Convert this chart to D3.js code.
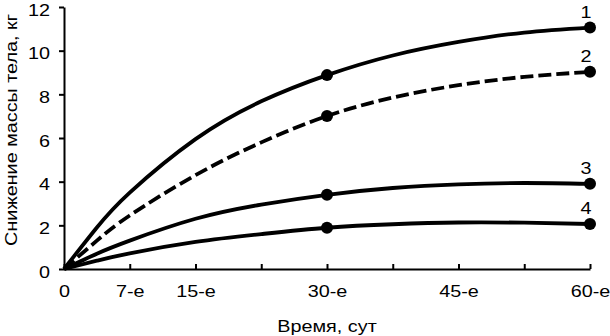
<!DOCTYPE html>
<html>
<head>
<meta charset="utf-8">
<script src="https://cdn.jsdelivr.net/npm/d3@7"></script>
<style>
  html, body { margin: 0; padding: 0; background: #fff; }
  svg { display: block; font-family: "Liberation Sans", Arial, sans-serif; }
</style>
</head>
<body>
<svg id="chart" width="610" height="336"></svg>
<script>
// Days along the x axis where the curves were read
const days = [0, 3.75, 7.5, 15, 22.5, 30, 37.5, 45, 52.5, 60];
// Curve values (kg)
const series1 = [0, 1.9, 3.5, 5.95, 7.68, 8.88, 9.78, 10.4, 10.83, 11.06];
const series2 = [0, 1.3, 2.45, 4.3, 5.8, 7.01, 7.85, 8.42, 8.8, 9.03];
const series3 = [0, 0.7, 1.3, 2.3, 2.95, 3.40, 3.71, 3.88, 3.94, 3.9];
const series4 = [0, 0.38, 0.72, 1.24, 1.6, 1.89, 2.05, 2.13, 2.12, 2.06];
const seriesNames = ["1", "2", "3", "4"];
const seriesDashed = [false, true, false, false];
// Days with markers
const markerDays = [30, 60];
// X tick values and labels
const xTickValues = [0, 7.5, 15, 22.5, 30, 37.5, 45, 52.5, 60];
const xTickLabels = ["0", "7-е", "15-е", "", "30-е", "", "45-е", "", "60-е"];
const yTickValues = [0, 2, 4, 6, 8, 10, 12];
const xTitle = "Время, сут";
const yTitle = "Снижение массы тела, кг";

const allSeries = [series1, series2, series3, series4];
const FS = 16.5;      // font size
const SX = 1.2;       // horizontal text stretch seen in the reference
const FONT = "Liberation Sans, Arial, sans-serif";

const svg = d3.select("#chart");
const x = d3.scaleLinear().domain([0, 60]).range([64, 590]);
const y = d3.scaleLinear().domain([0, 12]).range([269, 7]);

// Y axis
const yAxis = d3.axisLeft(y).tickValues(yTickValues).tickSizeInner(5).tickSizeOuter(0).tickPadding(0);
const gy = svg.append("g").attr("transform", `translate(${x(0)},0)`).call(yAxis);
gy.selectAll("path, line").attr("stroke", "#000").attr("stroke-width", 2);
gy.selectAll("text").attr("font-size", FS).attr("fill", "#000").attr("font-family", FONT)
  .attr("x", 0).attr("dy", "0.5em")
  .attr("transform", `translate(-14,0) scale(${SX},1)`);

// X axis
const xAxis = d3.axisBottom(x).tickValues(xTickValues)
  .tickFormat((d, i) => xTickLabels[i]).tickSizeInner(-5).tickSizeOuter(0).tickPadding(16);
const gx = svg.append("g").attr("transform", `translate(0,${y(0)})`).call(xAxis);
gx.selectAll("path, line").attr("stroke", "#000").attr("stroke-width", 2);
gx.selectAll("text").attr("font-size", FS).attr("fill", "#000").attr("font-family", FONT)
  .attr("transform", `scale(${SX},1)`);

// Lines
const line = d3.line().x((d, i) => x(days[i])).y(d => y(d)).curve(d3.curveNatural);
allSeries.forEach((s, k) => {
  svg.append("path").datum(s)
    .attr("d", line)
    .attr("fill", "none")
    .attr("stroke", "#000")
    .attr("stroke-width", 3.8)
    .attr("stroke-dasharray", seriesDashed[k] ? "13,5" : null);
  markerDays.forEach(md => {
    const idx = days.indexOf(md);
    svg.append("circle").attr("cx", x(md)).attr("cy", y(s[idx])).attr("r", 6).attr("fill", "#000");
  });
  const last = s[s.length - 1];
  svg.append("text")
    .attr("transform", `translate(${x(60) - 4},${y(last) - 10}) scale(${SX},1)`)
    .attr("text-anchor", "middle").attr("font-size", FS).text(seriesNames[k]);
});

// Axis titles
svg.append("text").attr("transform", `translate(327,331.5) scale(${SX},1)`)
  .attr("text-anchor", "middle").attr("font-size", FS).text(xTitle);
svg.append("text").attr("transform", `translate(17,130) rotate(-90) scale(${SX},1)`)
  .attr("text-anchor", "middle").attr("font-size", FS).text(yTitle);
</script>
</body>
</html>
